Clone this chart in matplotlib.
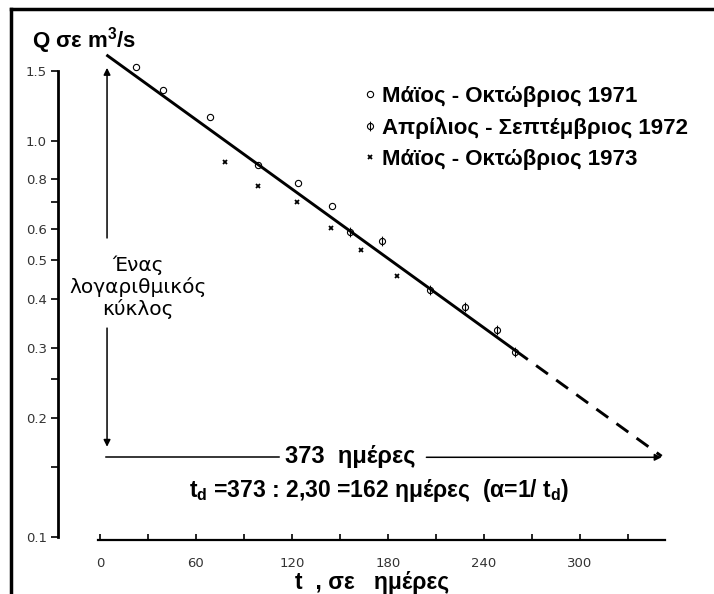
import matplotlib
matplotlib.use('Agg')
import matplotlib.pyplot as plt
from matplotlib.path import Path
from matplotlib.lines import Line2D
from matplotlib.ticker import FixedLocator, FixedFormatter, NullFormatter

plt.rcParams['font.family'] = ['Liberation Sans', 'DejaVu Sans']
plt.rcParams['mathtext.fontset'] = 'custom'
plt.rcParams['mathtext.rm'] = 'Liberation Sans:bold'
plt.rcParams['mathtext.it'] = 'Liberation Sans:bold'
plt.rcParams['mathtext.bf'] = 'Liberation Sans:bold'

# ---- data ----
t_1971 = [22.5, 39.4, 68.8, 98.8, 123.8, 145.0]
q_1971 = [1.54, 1.345, 1.15, 0.87, 0.783, 0.685]
t_1972 = [156.3, 176.3, 206.3, 228.1, 248.1, 259.4]
q_1972 = [0.589, 0.559, 0.42, 0.381, 0.333, 0.293]
t_1973 = [78.1, 98.8, 123.1, 144.4, 163.1, 185.6]
q_1973 = [0.885, 0.77, 0.701, 0.603, 0.531, 0.456]
fit_t = [4, 260]
fit_q = [1.65, 0.295]
extrap_t = [260, 351]
extrap_q = [0.295, 0.160]

labels = ['Μάϊος - Οκτώβριος 1971', 'Απρίλιος - Σεπτέμβριος 1972', 'Μάϊος - Οκτώβριος 1973']
y_ticks = [0.1, 0.2, 0.3, 0.4, 0.5, 0.6, 0.8, 1.0, 1.5]
y_ticklabels = ['0.1', '0.2', '0.3', '0.4', '0.5', '0.6', '0.8', '1.0', '1.5']
y_minor = [0.15, 0.25, 0.7]
x_ticks = [0, 60, 120, 180, 240, 300]
x_ticklabels = ['0', '60', '120', '180', '240', '300']
x_minor = [30, 90, 150, 210, 270, 330]

W, H = 714, 594
def fx(x):
    return x / W
def fy(y):
    return 1 - y / H

fig = plt.figure(figsize=(W / 100, H / 100), dpi=100)
ax = fig.add_axes([fx(58), fy(540), fx(680) - fx(58), fy(40) - fy(540)])
ax.set_yscale('log')
ax.set_xlim(-26.25, 362.5)
ax.set_ylim(0.0983, 1.799)

for s in ['top', 'right']:
    ax.spines[s].set_visible(False)
ax.spines['left'].set_bounds(0.1, 1.5)
ax.spines['left'].set_linewidth(2.0)
ax.spines['bottom'].set_bounds(-1, 353)
ax.spines['bottom'].set_linewidth(1.6)

ax.yaxis.set_major_locator(FixedLocator(y_ticks))
ax.yaxis.set_major_formatter(FixedFormatter(y_ticklabels))
ax.yaxis.set_minor_locator(FixedLocator(y_minor))
ax.yaxis.set_minor_formatter(NullFormatter())
ax.xaxis.set_major_locator(FixedLocator(x_ticks))
ax.xaxis.set_major_formatter(FixedFormatter(x_ticklabels))
ax.xaxis.set_minor_locator(FixedLocator(x_minor))
ax.xaxis.set_minor_formatter(NullFormatter())

ax.tick_params(axis='y', which='both', direction='out', length=5, width=1.2,
               pad=3, labelsize=9.5, labelcolor='#333333')
ax.tick_params(axis='x', which='both', direction='in', length=4, width=1.2,
               pad=12, labelsize=9.5, labelcolor='#333333')
for lab in ax.get_xticklabels() + ax.get_yticklabels():
    lab.set_family('DejaVu Sans')

# fitted line and extrapolation
ax.plot(fit_t, fit_q, color='k', lw=2.1, solid_capstyle='butt')
ax.plot(extrap_t, extrap_q, color='k', lw=2.1, dashes=(5, 3.5))

# markers
circle = Path.unit_circle()
stem = Path([[0, -1.6], [0, 1.6]], [Path.MOVETO, Path.LINETO])
phi = Path.make_compound_path(circle, stem)

ax.plot(t_1971, q_1971, ls='none', marker='o', mfc='none', mec='k', mew=0.8, ms=4.5)
ax.plot(t_1972, q_1972, ls='none', marker=phi, mfc='none', mec='k', mew=0.8, ms=7)
ax.plot(t_1973, q_1973, ls='none', marker='x', mec='k', mew=1.3, ms=3.5)

# arrows
ap = dict(arrowstyle='-|>', lw=1.1, color='k', mutation_scale=10, shrinkA=0, shrinkB=0)
ax.annotate('', xy=(4.4, 1.53), xytext=(4.4, 0.569), arrowprops=ap)
ax.annotate('', xy=(4.4, 0.169), xytext=(4.4, 0.337), arrowprops=ap)
ax.plot([4, 112], [0.159, 0.159], color='k', lw=1.1)
ax.annotate('', xy=(351, 0.159), xytext=(204, 0.159), arrowprops=ap)

# legend
handles = [
    Line2D([], [], ls='none', marker='o', mfc='none', mec='k', mew=0.8, ms=4.5),
    Line2D([], [], ls='none', marker=phi, mfc='none', mec='k', mew=0.8, ms=7),
    Line2D([], [], ls='none', marker='x', mec='k', mew=1.3, ms=3.5),
]
fig.legend(handles, labels, loc='upper left', bbox_to_anchor=(fx(364), fy(86)),
           bbox_transform=fig.transFigure, frameon=False, borderpad=0,
           borderaxespad=0, handlelength=0.5, handletextpad=0.3,
           labelspacing=0.44, prop=dict(family='Liberation Sans', weight='bold', size=16))

# texts
fig.text(fx(32), fy(48), 'Q σε m$^3$/s', fontsize=16, fontweight='bold',
         ha='left', va='baseline')
fig.text(fx(138), fy(287), 'Ένας\nλογαριθμικός\nκύκλος', ha='center', va='center',
         fontsize=14.5, family='DejaVu Sans', linespacing=1.12)
fig.text(fx(350), fy(457), '373  ημέρες', ha='center', va='center',
         fontsize=17, fontweight='bold')
fig.text(fx(379), fy(491), 't$_d$ =373 : 2,30 =162 ημέρες  (α=1/ t$_d$)',
         ha='center', va='center', fontsize=16.5, fontweight='bold')
fig.text(fx(372), fy(582), 't  , σε   ημέρες', ha='center', va='center',
         fontsize=16.5, fontweight='bold')

# outer frame (top and left edges)
fig.add_artist(Line2D([fx(11), fx(11)], [fy(9), 0], transform=fig.transFigure,
                      color='k', lw=2.5))
fig.add_artist(Line2D([fx(11), 1], [fy(9), fy(9)], transform=fig.transFigure,
                      color='k', lw=2.5))

fig.savefig('out.png', dpi=100)
